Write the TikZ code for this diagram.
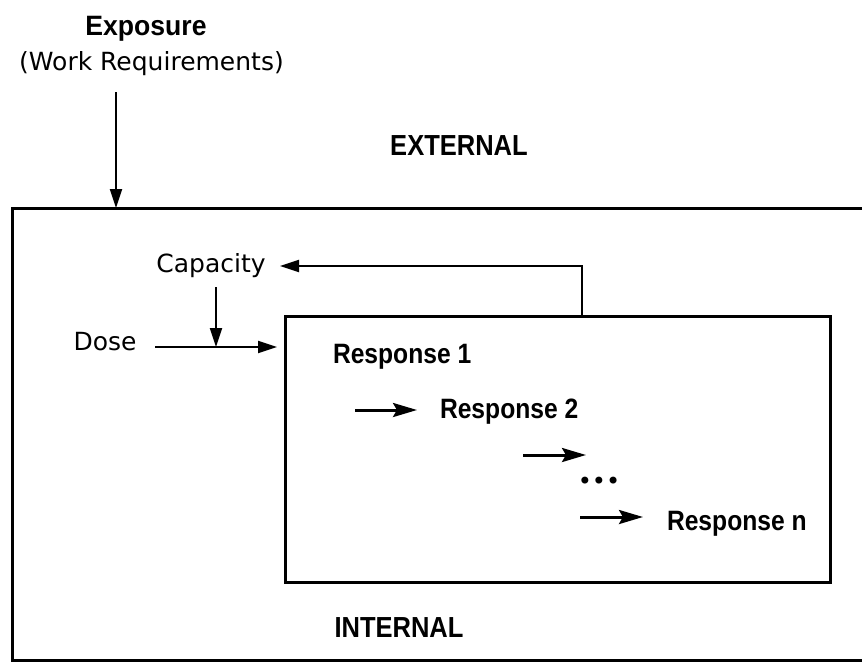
\documentclass[tikz,border=0pt]{standalone}
\usepackage{fontspec}
\setmainfont{DejaVu Sans}
\newfontfamily\libfont{Liberation Sans}[FakeStretch=0.88]
\newfontfamily\expfont{Liberation Sans}[FakeStretch=0.95]
\usetikzlibrary{arrows.meta}
\tikzset{
  txt/.style={inner sep=0pt, outer sep=0pt, font=\fontsize{25}{30}\selectfont},
  btxt/.style={inner sep=0pt, outer sep=0pt, font=\libfont\bfseries\fontsize{28}{32}\selectfont},
  ltxt/.style={inner sep=0pt, outer sep=0pt, font=\libfont\bfseries\fontsize{29}{32}\selectfont},
  conn/.style={line width=2.2pt, -{Triangle[length=19pt,width=12pt]}},
  chain/.style={line width=3pt, -{Stealth[length=24pt,width=14pt,inset=4pt]}},
  boxline/.style={line width=3pt},
}
\begin{document}
\begin{tikzpicture}[x=1pt,y=-1pt]
\useasboundingbox (0,0) rectangle (862,662);
\begin{scope}
\clip (0,0) rectangle (862,662);
\draw[boxline] (12,208) rectangle (920,660);
\end{scope}
% texts
\node[inner sep=0pt, anchor=base, font=\expfont\bfseries\fontsize{28}{32}\selectfont] (expo) at (146,35) {Exposure};
\node[txt, anchor=base] (work) at (151.5,70) {(Work Requirements)};
\node[ltxt, anchor=base] (ext) at (459,155) {EXTERNAL};
\node[txt, anchor=base] (cap) at (211,272) {Capacity};
\node[txt, anchor=base] (dose) at (105,350) {Dose};
\node[draw, boxline, minimum width=545pt, minimum height=266pt, inner sep=0pt] (inner) at (557.5,449) {};
\node[btxt, anchor=base west] (r1) at (333,363) {Response 1};
\node[btxt, anchor=base west] (r2) at (440,418) {Response 2};
\node[inner sep=0pt, font=\fontsize{24}{28}\selectfont] (dots) at (599,483) {•••};
\node[btxt, anchor=base west] (rn) at (667,530) {Response n};
\node[ltxt, anchor=base] (int) at (399,637) {INTERNAL};
% coordinates
\coordinate (expoS) at (116,92);
\coordinate (expoT) at (116,208);
\coordinate (fbS) at (582,316);
\coordinate (fbT) at (280,266);
\coordinate (capS) at (216,287);
\coordinate (capT) at (216,347);
\coordinate (doseS) at (155,347);
\coordinate (doseT) at (277,347);
\coordinate (a1s) at (355,410);
\coordinate (a1t) at (417,410);
\coordinate (a2s) at (523,455);
\coordinate (a2t) at (586,455);
\coordinate (a3s) at (580,517);
\coordinate (a3t) at (643,517);
% connectors
\draw[conn] (expoS) -- (expoT);
\draw[conn] (fbS) |- (fbT);
\draw[conn] (capS) -- (capT);
\draw[conn] (doseS) -- (doseT);
\draw[chain] (a1s) -- (a1t);
\draw[chain] (a2s) -- (a2t);
\draw[chain] (a3s) -- (a3t);
\end{tikzpicture}
\end{document}
